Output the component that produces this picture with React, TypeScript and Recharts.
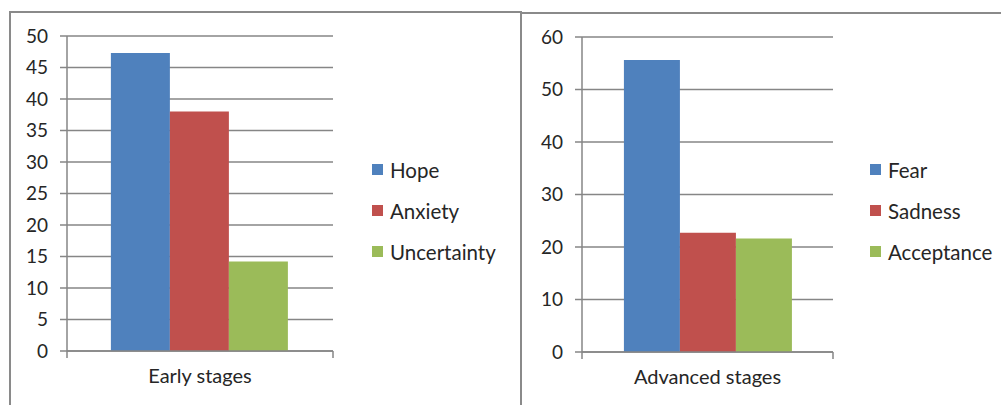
import { BarChart, Bar, XAxis, YAxis, CartesianGrid, Legend } from 'recharts';

const earlyCategories = ['Early stages'];
const earlySeries = ['Hope', 'Anxiety', 'Uncertainty'];
const earlyValues = [47.3, 38.0, 14.2];
const earlyTicks = [0, 5, 10, 15, 20, 25, 30, 35, 40, 45, 50];

const advancedCategories = ['Advanced stages'];
const advancedSeries = ['Fear', 'Sadness', 'Acceptance'];
const advancedValues = [55.6, 22.7, 21.6];
const advancedTicks = [0, 10, 20, 30, 40, 50, 60];

const COLORS = ['#4F81BD', '#C0504D', '#9BBB59'];
const FONT = 'Lato, "Open Sans", sans-serif';
const GRID = '#868686';
const TEXT = '#262626';

const buildRows = (categories: string[], series: string[], values: number[]) =>
    categories.map(name => {
        const row: Record<string, string | number> = { name };
        series.forEach((s, i) => { row[s] = values[i]; });
        return row;
    });

// category label plus the little tick marks at both band edges (Excel style)
const CategoryTick = (props: any) => {
    const { x, y, payload } = props;
    const half = payload && typeof payload.offset === 'number' ? payload.offset : 0;
    return (
        <g>
            {half > 0 && (
                <>
                    <line x1={x - half} x2={x - half} y1={y} y2={y + 7} stroke={GRID} strokeWidth={1.5} />
                    <line x1={x + half} x2={x + half} y1={y} y2={y + 7} stroke={GRID} strokeWidth={1.5} />
                </>
            )}
            <text x={x} y={y + 18} dy="0.71em" textAnchor="middle" fill={TEXT} fontSize={20} fontFamily={FONT}>
                {payload.value}
            </text>
        </g>
    );
};

const LegendList = (props: any) => {
    const order: string[] = props.order || [];
    const items = [...(props.payload || [])].sort(
        (a: any, b: any) => order.indexOf(a.value) - order.indexOf(b.value)
    );
    return (
        <div style={{ fontFamily: FONT, fontSize: 20.5, color: TEXT }}>
            {items.map((item: any) => (
                <div key={item.value} style={{ display: 'flex', alignItems: 'center', height: 41 }}>
                    <span style={{ width: 11, height: 11, background: item.color, marginRight: 7, display: 'inline-block' }} />
                    <span>{item.value}</span>
                </div>
            ))}
        </div>
    );
};

interface PanelProps {
    categories: string[];
    series: string[];
    values: number[];
    ticks: number[];
    width: number;
    margin: { top: number; right: number; bottom: number; left: number };
    legendLeft: number;
    gap: string;
}

const Panel = ({ categories, series, values, ticks, width, margin, legendLeft, gap }: PanelProps) => {
    const data = buildRows(categories, series, values);
    return (
        <BarChart width={width} height={405} data={data} margin={margin} barGap={0} barCategoryGap={gap}>
            <CartesianGrid vertical={false} stroke={GRID} strokeWidth={1.5} />
            <XAxis
                dataKey="name"
                axisLine={{ stroke: GRID, strokeWidth: 1.5 }}
                tickLine={false}
                tickSize={0}
                tickMargin={0}
                height={30}
                tick={<CategoryTick />}
            />
            <YAxis
                domain={[0, ticks[ticks.length - 1]]}
                ticks={ticks}
                width={57}
                interval={0}
                axisLine={{ stroke: GRID, strokeWidth: 1.5 }}
                tickLine={{ stroke: GRID, strokeWidth: 1.5 }}
                tickSize={7}
                tickMargin={12}
                tick={{ fill: TEXT, fontSize: 19, fontFamily: FONT }}
            />
            {series.map((s, i) => (
                <Bar key={s} dataKey={s} fill={COLORS[i]} isAnimationActive={false} />
            ))}
            <Legend
                layout="vertical"
                align="center"
                verticalAlign="middle"
                itemSorter={null as any}
                content={<LegendList order={series} />}
                wrapperStyle={{ left: legendLeft, top: 149, width: 150 }}
            />
        </BarChart>
    );
};

export default function App() {
    return (
        <div style={{ position: 'absolute', left: 0, top: 0, width: 1001, height: 405, overflow: 'hidden', background: '#fff' }}>
            <div style={{ position: 'absolute', left: 9, top: 11, width: 509, height: 420, border: '2px solid #8a8a8a' }} />
            <div style={{ position: 'absolute', left: 520, top: 12, width: 500, height: 420, border: '2px solid #8a8a8a' }} />
            <div style={{ position: 'absolute', left: 0, top: 0 }}>
                <Panel
                    categories={earlyCategories}
                    series={earlySeries}
                    values={earlyValues}
                    ticks={earlyTicks}
                    width={520}
                    margin={{ top: 36, right: 187, bottom: 24, left: 10 }}
                    legendLeft={372}
                    gap="16.5%"
                />
            </div>
            <div style={{ position: 'absolute', left: 520, top: 0 }}>
                <Panel
                    categories={advancedCategories}
                    series={advancedSeries}
                    values={advancedValues}
                    ticks={advancedTicks}
                    width={481}
                    margin={{ top: 37, right: 168, bottom: 23, left: 5 }}
                    legendLeft={350}
                    gap="16.7%"
                />
            </div>
        </div>
    );
}
